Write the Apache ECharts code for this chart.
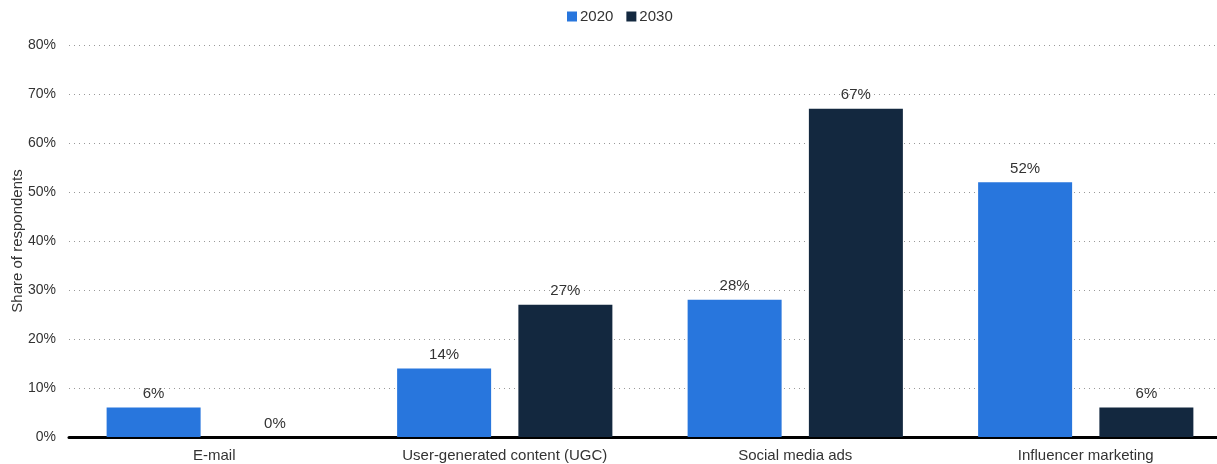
<!DOCTYPE html>
<html>
<head>
<meta charset="utf-8">
<script src="https://cdn.jsdelivr.net/npm/echarts@6/dist/echarts.min.js"></script>
<style>
  html, body { margin: 0; padding: 0; background: #fff; }
  #chart { width: 1217px; height: 464px; }
</style>
</head>
<body>
<div id="chart"></div>
<script>
const categories = ['E-mail', 'User-generated content (UGC)', 'Social media ads', 'Influencer marketing'];
const seriesNames = ['2020', '2030'];
const values2020 = [6, 14, 28, 52];
const values2030 = [0, 27, 67, 6];
const yTicks = [0, 10, 20, 30, 40, 50, 60, 70, 80];

const FONT = '"Liberation Sans", Arial, sans-serif';
const TEXT = '#333333';
const colors = ['#2876dd', '#13283f'];

const chart = echarts.init(document.getElementById('chart'), null, { renderer: 'canvas' });

const label = {
  show: true,
  position: 'top',
  distance: 6,
  color: TEXT,
  fontFamily: FONT,
  fontSize: 15,
  formatter: p => p.value + '%'
};

chart.setOption({
  animation: false,
  color: colors,
  textStyle: { fontFamily: FONT },
  legend: {
    data: seriesNames,
    top: 4,
    left: 562,
    itemWidth: 10,
    itemHeight: 10,
    itemGap: 13,
    icon: 'rect',
    textStyle: { color: TEXT, fontSize: 15, fontFamily: FONT, padding: [0, 0, 0, -2] }
  },
  // the plot area runs a little past the right edge of the page
  grid: { left: 69, width: 1162, top: 45, bottom: 27, containLabel: false, outerBoundsMode: 'none' },
  xAxis: {
    type: 'category',
    data: categories,
    axisLine: { lineStyle: { color: '#000', width: 3 } },
    axisTick: { show: false },
    axisLabel: { color: TEXT, fontSize: 15, fontFamily: FONT, margin: 11 }
  },
  yAxis: {
    type: 'value',
    min: yTicks[0],
    max: yTicks[yTicks.length - 1],
    interval: 10,
    name: 'Share of respondents',
    nameLocation: 'middle',
    nameGap: 44,
    nameMoveOverlap: false,
    nameRotate: 90,
    nameTextStyle: { color: TEXT, fontSize: 15, fontFamily: FONT },
    axisLine: { show: false },
    axisTick: { show: false },
    axisLabel: { color: TEXT, fontSize: 14, fontFamily: FONT, margin: 13, formatter: v => v + '%' },
    splitLine: { lineStyle: { color: '#999', type: [1, 4], width: 1 } }
  },
  series: [
    { name: seriesNames[0], type: 'bar', data: values2020, barWidth: 94, barGap: '29%', label },
    { name: seriesNames[1], type: 'bar', data: values2030, barWidth: 94, barGap: '29%', label }
  ]
});
</script>
</body>
</html>
